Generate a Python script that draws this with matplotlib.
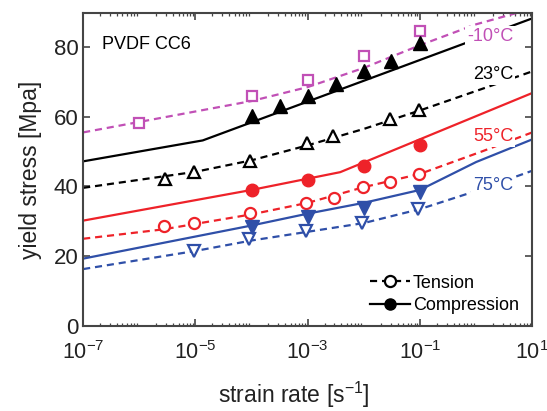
import numpy as np
import matplotlib.pyplot as plt
from matplotlib.ticker import LogLocator, FixedLocator, NullFormatter

plt.rcParams['font.family'] = ['Liberation Sans', 'DejaVu Sans']
plt.rcParams['mathtext.fontset'] = 'custom'
plt.rcParams['mathtext.rm'] = 'Liberation Sans'
plt.rcParams['mathtext.it'] = 'Liberation Sans:italic'
plt.rcParams['mathtext.default'] = 'rm'

# -10 C tension (squares)
rate_m10_t = [1e-6, 1e-4, 1e-3, 1e-2, 1e-1]
ys_m10_t = [58.2, 65.8, 70.6, 77.4, 84.6]
fit_m10_x = [1e-7, 1e-6, 1e-4, 1e-3, 1e-2, 1e-1, 1e0, 1e1]
fit_m10_y = [55.5, 58.5, 64.5, 68.5, 74.0, 80.5, 86.5, 91.0]

# 23 C tension / compression (triangles)
rate_23_t = [2.9e-6, 9.3e-6, 9.5e-5, 9.8e-4, 2.8e-3, 2.9e-2, 9.5e-2]
ys_23_t = [42.0, 44.1, 47.2, 52.5, 54.6, 59.3, 62.0]
fit_23t_x = [1e-7, 1e-5, 1e-4, 1e-3, 1e-2, 1e-1, 1.4e0, 1e1]
fit_23t_y = [39.6, 44.2, 47.5, 51.8, 56.5, 61.8, 68.2, 73.0]
rate_23_c = [1e-4, 3.2e-4, 1e-3, 3.2e-3, 1e-2, 3e-2, 1e-1]
ys_23_c = [60.3, 63.0, 65.8, 69.3, 73.0, 76.1, 81.2]
fit_23c_x = [1e-7, 1.35e-5, 1e1]
fit_23c_y = [47.2, 53.2, 88.2]

# 55 C tension / compression (circles)
rate_55_t = [2.8e-6, 9.3e-6, 9.5e-5, 9.5e-4, 2.9e-3, 9.8e-3, 2.9e-2, 9.5e-2]
ys_55_t = [28.7, 29.4, 32.3, 35.3, 36.8, 39.8, 41.3, 43.6]
fit_55t_x = [1e-7, 2.7e-6, 1e-4, 1e-3, 1e-2, 1e-1, 1.3e0, 1e1]
fit_55t_y = [25.0, 27.7, 32.0, 35.3, 39.8, 43.6, 50.1, 55.5]
rate_55_c = [1e-4, 1e-3, 1e-2, 1e-1]
ys_55_c = [38.9, 41.8, 46.0, 51.8]
fit_55c_x = [1e-7, 1e-4, 3.8e-3, 1e1]
fit_55c_y = [30.2, 39.0, 44.1, 66.8]

# 75 C tension / compression (down triangles)
rate_75_t = [9.3e-6, 8.9e-5, 9.3e-4, 9.3e-3, 9.3e-2]
ys_75_t = [21.5, 24.9, 27.2, 29.4, 33.4]
fit_75t_x = [1e-7, 1e-5, 1e-4, 1e-3, 1e-2, 1e-1, 8e-1, 1e1]
fit_75t_y = [16.3, 21.5, 24.5, 27.0, 29.5, 33.5, 38.2, 44.5]
rate_75_c = [1e-4, 1e-3, 1e-2, 1e-1]
ys_75_c = [28.5, 31.1, 33.9, 38.5]
fit_75c_x = [1e-7, 1e-4, 1e-3, 1e-2, 1e-1, 1e0, 1e1]
fit_75c_y = [19.3, 28.8, 32.2, 35.3, 39.0, 47.0, 53.5]

c_mag = '#C150B6'
c_blk = 'black'
c_red = '#EE2229'
c_blu = '#2F4FA8'
lw = 1.6
ms = 8
dash = (3.2, 2.2)

fig = plt.figure(figsize=(5.47, 4.11), dpi=100)
ax = fig.add_axes([0.152, 0.207, 0.821, 0.761])

# -10 C
ax.plot(fit_m10_x, fit_m10_y, color=c_mag, lw=lw, ls='--', dashes=dash)
ax.plot(rate_m10_t, ys_m10_t, 's', mfc='white', mec=c_mag, mew=1.6, ms=7)

# 23 C
ax.plot(fit_23t_x, fit_23t_y, color=c_blk, lw=lw, ls='--', dashes=dash)
ax.plot(rate_23_t, ys_23_t, '^', mfc='white', mec=c_blk, mew=1.6, ms=9)
ax.plot(fit_23c_x, fit_23c_y, color=c_blk, lw=lw)
ax.plot(rate_23_c, ys_23_c, '^', mfc=c_blk, mec=c_blk, ms=10)

# 55 C
ax.plot(fit_55t_x, fit_55t_y, color=c_red, lw=lw, ls='--', dashes=dash)
ax.plot(rate_55_t, ys_55_t, 'o', mfc='white', mec=c_red, mew=1.6, ms=ms)
ax.plot(fit_55c_x, fit_55c_y, color=c_red, lw=lw)
ax.plot(rate_55_c, ys_55_c, 'o', mfc=c_red, mec=c_red, ms=ms + 1)

# 75 C
ax.plot(fit_75t_x, fit_75t_y, color=c_blu, lw=lw, ls='--', dashes=dash)
ax.plot(rate_75_t, ys_75_t, 'v', mfc='white', mec=c_blu, mew=1.6, ms=9)
ax.plot(fit_75c_x, fit_75c_y, color=c_blu, lw=lw)
ax.plot(rate_75_c, ys_75_c, 'v', mfc=c_blu, mec=c_blu, ms=10)

# temperature labels
bb = dict(facecolor='white', edgecolor='none', pad=1.5)
ax.text(4.6e0, 83.0, '-10\u00b0C', color=c_mag, fontsize=13, ha='right', va='center', bbox=bb)
ax.text(4.6e0, 72.2, '23\u00b0C', color=c_blk, fontsize=13, ha='right', va='center', bbox=bb)
ax.text(4.6e0, 54.4, '55\u00b0C', color=c_red, fontsize=13, ha='right', va='center', bbox=bb)
ax.text(4.6e0, 40.3, '75\u00b0C', color=c_blu, fontsize=13, ha='right', va='center', bbox=bb)
ax.text(2.2e-7, 80.6, 'PVDF CC6', color='black', fontsize=13, ha='left', va='center')

# legend
ax.plot([], [], color='black', ls='--', dashes=dash, lw=lw, marker='o', mfc='white',
        mec='black', mew=1.6, ms=ms, label='Tension')
ax.plot([], [], color='black', lw=lw, marker='o', mfc='black', ms=ms, label='Compression')
handles, labels = ax.get_legend_handles_labels()
ax.legend(handles, labels, loc='lower right', frameon=False, fontsize=13,
          handlelength=2.2, handletextpad=0.2, labelspacing=0.3,
          bbox_to_anchor=(1.007, -0.014))

ax.set_xscale('log')
ax.set_xlim(1e-7, 1e1)
ax.set_ylim(0, 89.7)
ax.set_yticks([0, 20, 40, 60, 80])
ax.xaxis.set_major_locator(FixedLocator([10.0 ** k for k in range(-7, 2)]))
ax.set_xticks([1e-7, 1e-5, 1e-3, 1e-1, 1e1])
ax.set_xticklabels(['$10^{-7}$', '$10^{-5}$', '$10^{-3}$', '$10^{-1}$', '$10^{1}$'])
ax.xaxis.set_minor_locator(LogLocator(base=10, subs=np.arange(2, 10), numticks=20))
ax.xaxis.set_minor_formatter(NullFormatter())

gray = '#454545'
for s in ax.spines.values():
    s.set_color(gray)
    s.set_linewidth(1.5)
ax.tick_params(which='both', direction='in', top=True, right=True, color=gray,
               labelcolor='#222222')
ax.tick_params(axis='y', labelsize=16)
ax.tick_params(axis='x', labelsize=15.5, pad=11)
ax.tick_params(which='major', length=5, width=1.2)
ax.tick_params(which='minor', length=2.5, width=0.9)

ax.set_xlabel('strain rate [s$^{-1}$]', fontsize=16.5, color='#222222')
ax.xaxis.set_label_coords(0.47, -0.172)
ax.set_ylabel('yield stress [Mpa]', fontsize=16.5, color='#222222', labelpad=8)

fig.savefig('out.png', dpi=100)
